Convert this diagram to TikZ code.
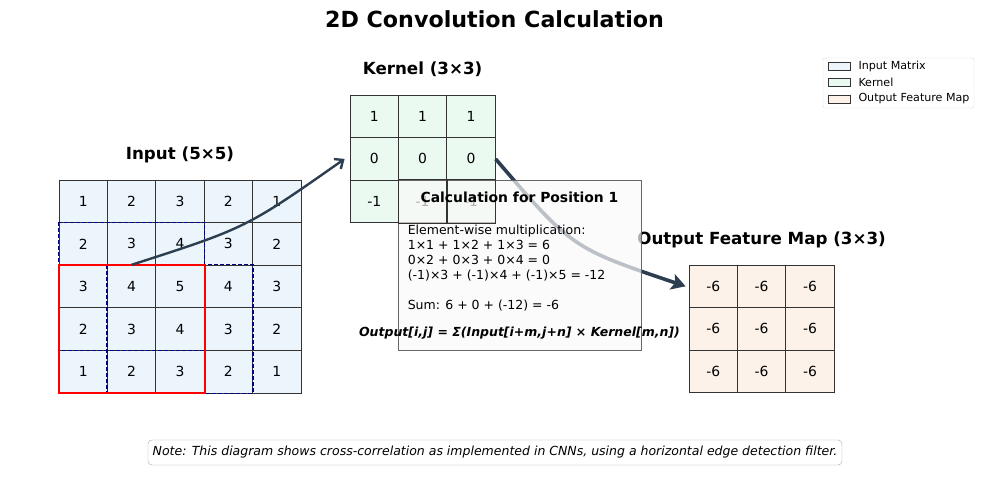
\documentclass[tikz,border=0pt]{standalone}
\usepackage{fontspec}
\setmainfont{DejaVu Sans}
\usetikzlibrary{positioning,arrows.meta}

\definecolor{inputfill}{HTML}{EBF5FB}
\definecolor{kernelfill}{HTML}{EAFAF1}
\definecolor{outputfill}{HTML}{FDF2E9}
\definecolor{arrowcol}{HTML}{2C3E50}
\definecolor{gridcol}{HTML}{333333}
\definecolor{calcfill}{HTML}{F9F9F9}
\definecolor{slidecol}{HTML}{000080}

\begin{document}
\begin{tikzpicture}[x=1pt, y=-1pt,
    every node/.style={inner sep=0pt, font=\fontsize{13.9}{16}\selectfont},
    cell/.style={rectangle, draw=gridcol, line width=0.8pt, minimum width=48.4pt, minimum height=42.6pt},
    incell/.style={cell, fill=inputfill},
    kcell/.style={cell, fill=kernelfill},
    outcell/.style={cell, fill=outputfill},
    heading/.style={font=\fontsize{16.7}{20}\selectfont\bfseries},
    window/.style={draw=red, line width=2pt},
    slide/.style={draw=slidecol, line width=1.1pt, dash pattern=on 4pt off 2pt},
    flow/.style={draw=arrowcol, line width=2.4pt, -{Straight Barb[length=7pt,width=12pt]}},
    flowbig/.style={draw=arrowcol, line width=3.6pt, -{Stealth[length=14pt,width=16pt,inset=3pt]}},
    calcbox/.style={rectangle, draw=gray!80!black, line width=0.8pt, fill=calcfill, fill opacity=0.7, minimum width=243pt, minimum height=170pt},
    steps/.style={align=left, font=\fontsize{12.5}{15}\selectfont},
    swatch/.style={rectangle, draw=gridcol, line width=0.6pt, minimum width=22pt, minimum height=8pt},
    legtext/.style={font=\fontsize{11.1}{13}\selectfont}]

    \useasboundingbox (0,0) rectangle (989,488);

    \node[font=\fontsize{22.2}{26}\selectfont\bfseries] (title) at (494.5,19) {2D Convolution Calculation};

    % input matrix
    \foreach \row [count=\r from 0] in {{1,2,3,2,1},{2,3,4,3,2},{3,4,5,4,3},{2,3,4,3,2},{1,2,3,2,1}} {
        \foreach \v [count=\c from 0] in \row {
            \node[incell] (in-\r-\c) at (83.2+48.4*\c, 201.3+42.6*\r) {\v};
        }
    }
    \node[heading] (inlabel) at ([yshift=25pt]in-0-2.north) {Input (5×5)};

    % sliding positions and current window
    \draw[slide] (in-1-0.north west) rectangle (in-3-2.south east);
    \draw[slide] (in-2-1.north west) rectangle (in-4-3.south east);
    \draw[window] (in-2-0.north west) rectangle (in-4-2.south east);

    % kernel
    \foreach \row [count=\r from 0] in {{1,1,1},{0,0,0},{-1,-1,-1}} {
        \foreach \v [count=\c from 0] in \row {
            \node[kcell] (k-\r-\c) at (374.2+48.4*\c, 116.3+42.6*\r) {\v};
        }
    }
    \node[heading] (klabel) at ([yshift=25pt]k-0-1.north) {Kernel (3×3)};

    % output feature map
    \foreach \r in {0,1,2} {
        \foreach \c in {0,1,2} {
            \node[outcell] (out-\r-\c) at (713.2+48.4*\c, 286.3+42.6*\r) {-6};
        }
    }
    \node[heading] (outlabel) at ([yshift=25pt]out-0-1.north) {Output Feature Map (3×3)};

    % arrows
    \draw[flow] (in-2-1.north) .. controls (246,228) .. ([xshift=-5pt]k-1-0.west);
    \draw[flowbig] (k-1-2.east) .. controls (572,248) .. ([xshift=-3pt]out-0-0.west);

    % calculation box
    \node[calcbox] (calc) at (519.5,265) {};
    \foreach \c in {1,2}
        \draw[gridcol, line width=0.8pt] (k-2-\c.north west) rectangle (k-2-\c.south east);
    \node[font=\fontsize{13.9}{16}\selectfont\bfseries] (calctitle) at ([yshift=-18pt]calc.north) {Calculation for Position 1};
    \node[steps, anchor=north west] (calcsteps) at ([xshift=10pt,yshift=-45pt]calc.north west)
        {Element-wise multiplication:\\
         1×1 + 1×2 + 1×3 = 6\\
         0×2 + 0×3 + 0×4 = 0\\
         (-1)×3 + (-1)×4 + (-1)×5 = -12\\[15pt]
         Sum: 6 + 0 + (-12) = -6};
    \node[font=\fontsize{12.5}{15}\selectfont\bfseries\itshape] (formula) at ([yshift=17pt]calc.south)
        {Output[i,j] = Σ(Input[i+m,j+n] × Kernel[m,n])};

    % legend
    \node[rectangle, draw=gray!30, fill=white, rounded corners=2pt, minimum width=151pt, minimum height=50pt] (legend) at (898.5,83) {};
    \foreach \f/\t [count=\i from 0] in {inputfill/Input Matrix, kernelfill/Kernel, outputfill/Output Feature Map} {
        \node[swatch, fill=\f] (sw\i) at (839,66+16.5*\i) {};
        \node[legtext, right=8pt of sw\i] (lt\i) {\t};
    }

    % note
    \node[rectangle, draw=gray!70, rounded corners=4pt, minimum width=694pt, minimum height=25pt,
          font=\fontsize{12.5}{15}\selectfont\itshape] (note) at (495,452.5)
        {Note: This diagram shows cross-correlation as implemented in CNNs, using a horizontal edge detection filter.};
\end{tikzpicture}
\end{document}
